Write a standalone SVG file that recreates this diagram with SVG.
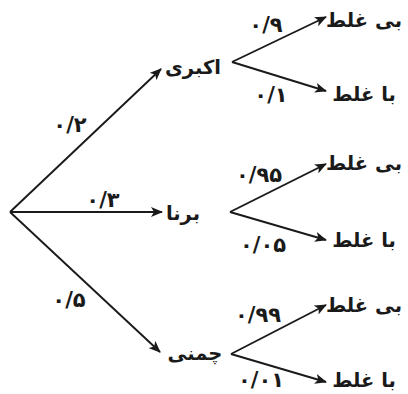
<svg xmlns="http://www.w3.org/2000/svg" width="408" height="394" viewBox="0 0 408 394">
<style>
.n{font-family:"DejaVu Sans",sans-serif;font-weight:bold;font-size:19.5px;fill:#1a1a1a;text-anchor:middle;}
.p{font-family:"DejaVu Sans",sans-serif;font-weight:bold;font-size:21px;fill:#1a1a1a;text-anchor:middle;}
.c line{stroke:#1a1a1a;stroke-width:1.9;marker-end:url(#ah);}
</style>
<defs>
<marker id="ah" markerUnits="userSpaceOnUse" markerWidth="12" markerHeight="10" refX="11" refY="5" orient="auto">
<path d="M0,0 L12,5 L0,10 L3,5 z" fill="#1a1a1a"/>
</marker>
</defs>
<rect width="408" height="394" fill="#fff"/>
<g id="connectors" class="c">
<line x1="10" y1="212" x2="161" y2="69"/>
<line x1="10" y1="212" x2="162" y2="212"/>
<line x1="10" y1="212" x2="160" y2="352"/>
<line x1="232" y1="62" x2="326" y2="17"/>
<line x1="232" y1="62" x2="326" y2="91"/>
<line x1="230" y1="212" x2="326" y2="164"/>
<line x1="230" y1="212" x2="326" y2="240"/>
<line x1="231" y1="354" x2="326" y2="305"/>
<line x1="231" y1="354" x2="326" y2="382"/>
</g>
<g id="labels">
<text class="p" x="70" y="132">۰/۲</text>
<text class="p" x="103" y="207">۰/۳</text>
<text class="p" x="69" y="307">۰/۵</text>
<text class="p" x="266" y="32">۰/۹</text>
<text class="p" x="271" y="102">۰/۱</text>
<text class="p" x="259" y="182">۰/۹۵</text>
<text class="p" x="263" y="252">۰/۰۵</text>
<text class="p" x="258" y="322">۰/۹۹</text>
<text class="p" x="261" y="387">۰/۰۱</text>
</g>
<g id="node-akbari"><text class="n" x="193" y="74">اکبری</text></g>
<g id="node-borna"><text class="n" x="183" y="220">برنا</text></g>
<g id="node-chamani"><text class="n" x="195" y="360">چمنی</text></g>
<g id="node-a-ok"><text class="n" x="364" y="27">بی غلط</text></g>
<g id="node-a-err"><text class="n" x="364" y="101">با غلط</text></g>
<g id="node-b-ok"><text class="n" x="364" y="170">بی غلط</text></g>
<g id="node-b-err"><text class="n" x="364" y="247">با غلط</text></g>
<g id="node-c-ok"><text class="n" x="364" y="312">بی غلط</text></g>
<g id="node-c-err"><text class="n" x="364" y="387">با غلط</text></g>
</svg>
